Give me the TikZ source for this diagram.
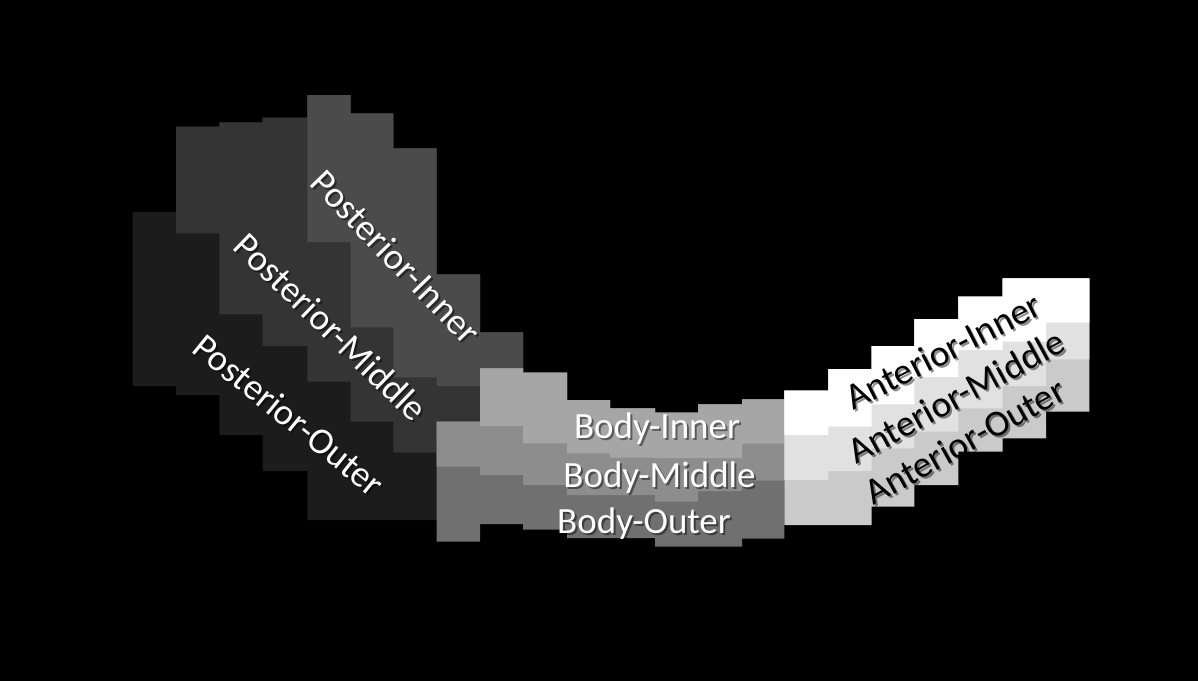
\documentclass[tikz,border=0pt]{standalone}
\usepackage{fontspec}
\setmainfont{Carlito}
\definecolor{postOuter}{HTML}{1C1C1C}
\definecolor{postMiddle}{HTML}{343434}
\definecolor{postInner}{HTML}{4B4B4B}
\definecolor{bodyOuter}{HTML}{707070}
\definecolor{bodyMiddle}{HTML}{8D8D8D}
\definecolor{bodyInner}{HTML}{A6A6A6}
\definecolor{antOuter}{HTML}{CACACA}
\definecolor{antMiddle}{HTML}{E1E1E1}
\definecolor{antInner}{HTML}{FFFFFF}
\newcommand\stepband[2]{%
  \gdef\sbtop{}\gdef\sbbot{}%
  \foreach \xa/\xb/\ya/\yb in {#2}{%
    \xdef\sbtop{\sbtop (\xa,\ya) -- (\xb,\ya) -- }%
    \xdef\sbbot{(\xb,\yb) -- (\xa,\yb) -- \sbbot}%
  }%
  \edef\sbcmd{\noexpand\fill[#1] \sbtop \sbbot cycle;}%
  \sbcmd
}
\tikzset{
  lbl/.style={font=\fontsize{37}{40}\selectfont, inner sep=0pt},
  wlbl/.style={lbl, text=white},
  blbl/.style={lbl, text=black},
  shd/.style={lbl, text=black, opacity=0.45},
}
\begin{document}
\begin{tikzpicture}[x=1pt,y=-1pt]
\fill[black] (0,0) rectangle (1198,681);
\useasboundingbox (0,0) rectangle (1198,681);
% Posterior
\stepband{postOuter}{132.5/176/212/386, 176/219.3/126.7/395, 219.3/262.7/122.3/435, 262.7/307.3/117.7/471, 307.3/350.7/95/520, 350.7/393.3/113.3/520, 393.3/436.7/148.3/520, 436.7/480/274.3/520, 480/523/332.3/400}
\stepband{postMiddle}{176/219.3/126.7/233.3, 219.3/262.7/122.3/314.3, 262.7/307.3/117.7/346, 307.3/350.7/95/381.7, 350.7/393.3/113.3/421.7, 393.3/436.7/148.3/452.7, 436.7/480/274.3/440, 480/523/332.3/400}
\stepband{postInner}{307.3/350.7/95/242, 350.7/393.3/113.3/327.3, 393.3/436.7/148.3/377.3, 436.7/480/274.3/386, 480/523/332.3/400}
% Body
\stepband{bodyOuter}{436.7/480/421.7/541.7, 480/523/368.3/524, 523/567/372.7/529.5, 567/610/400/538, 610/655/408.3/538, 655/698/412.7/546.7, 698/742/404.3/546.7, 742/784.3/399.3/538.5}
\stepband{bodyMiddle}{436.7/480/421.7/466.7, 480/523/368.3/475, 523/567/372.7/485, 567/610/400/495, 610/655/408.3/495, 655/698/412.7/501.7, 698/742/404.3/491, 742/784.3/399.3/480.5}
\stepband{bodyInner}{480/523/368.3/426, 523/567/372.7/443.3, 567/610/400/453.3, 610/655/408.3/457.5, 655/698/412.7/458, 698/742/404.3/458, 742/784.3/399.3/443.7}
% Anterior
\stepband{antOuter}{784.3/828.3/390.7/525, 828.3/871.7/369/525, 871.7/914.3/346/506.7, 914.3/958.3/319/485, 958.3/1002.7/296.7/451.7, 1002.7/1046/278.3/438.3, 1046/1089.3/278.3/411.7}
\stepband{antMiddle}{784.3/828.3/390.7/480, 828.3/871.7/369/471, 871.7/914.3/346/448.3, 914.3/958.3/319/431.7, 958.3/1002.7/296.7/408.3, 1002.7/1046/278.3/386, 1046/1089.3/278.3/359.3}
\stepband{antInner}{784.3/828.3/390.7/435, 828.3/871.7/369/426.7, 871.7/914.3/346/404.3, 914.3/958.3/319/377, 958.3/1002.7/296.7/350, 1002.7/1046/278.3/341.7, 1046/1089.3/278.3/322.7}
% Labels: shadows
\node[shd, rotate=-46] at (398,259) {Posterior-Inner};
\node[shd, rotate=-44] at (333,329) {Posterior-Middle};
\node[shd, rotate=-39] at (291,417) {Posterior-Outer};
\node[shd, anchor=base] at (659,440) {Body-Inner};
\node[shd, anchor=base] at (661.5,489) {Body-Middle};
\node[shd, anchor=base] at (646,535) {Body-Outer};
\node[shd, rotate=27] at (945,353) {Anterior-Inner};
\node[shd, rotate=28.5] at (958,398) {Anterior-Middle};
\node[shd, rotate=29] at (967,443) {Anterior-Outer};
% Labels
\node[wlbl, rotate=-46] (pi) at (396,257) {Posterior-Inner};
\node[wlbl, rotate=-44] (pm) at (331,327) {Posterior-Middle};
\node[wlbl, rotate=-39] (po) at (289,415) {Posterior-Outer};
\node[wlbl, anchor=base] (bi) at (657,438) {Body-Inner};
\node[wlbl, anchor=base] (bm) at (659.5,487) {Body-Middle};
\node[wlbl, anchor=base] (bo) at (644,533) {Body-Outer};
\node[blbl, rotate=27] (ai) at (943,351) {Anterior-Inner};
\node[blbl, rotate=28.5] (am) at (956,396) {Anterior-Middle};
\node[blbl, rotate=29] (ao) at (965,441) {Anterior-Outer};
\end{tikzpicture}
\end{document}
